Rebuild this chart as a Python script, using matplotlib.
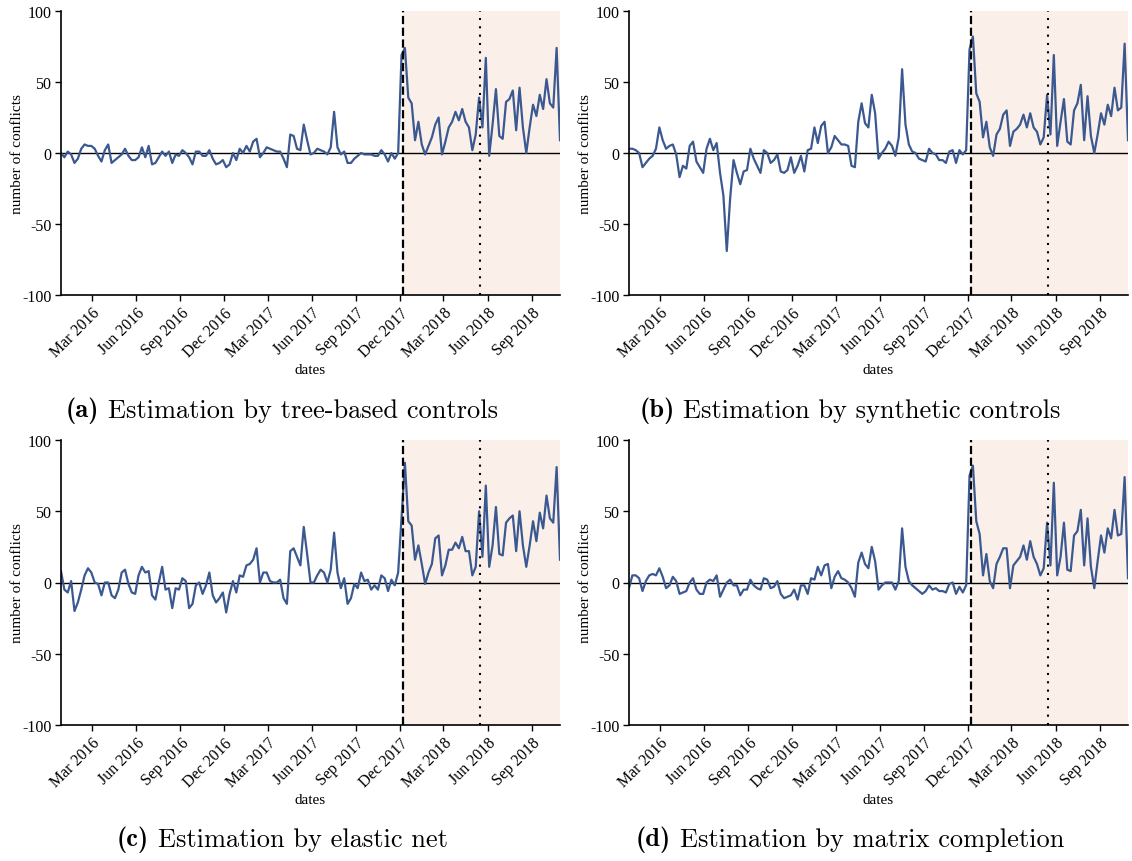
import numpy as np
import pandas as pd
import matplotlib
matplotlib.use("Agg")
import matplotlib.pyplot as plt
import matplotlib.dates as mdates

plt.rcParams['font.family'] = ['Liberation Serif', 'DejaVu Serif']
plt.rcParams['axes.unicode_minus'] = False

# weekly estimates, one point per week
start_date = "2015-12-28"
intervention = "2017-12-07"
second_event = "2018-05-15"

tree_based = [0, -3, 1, -1, -7, -4, 3, 6, 5, 5, 3, -2, -6, 2, 6, -7, -5, -3, -1, 3,
              -2, -5, -5, -3, 4, -3, 5, -8, -7, -3, 1, -2, 1, -7, -1, -2, 2, 0, -3, -8,
              1, 1, -2, -2, 2, -4, -8, -7, -5, -10, -8, 0, -5, 3, 0, 5, 1, 8, 10, -3,
              0, 4, 3, 2, 1, 1, -4, -10, 13, 12, 3, 2,
              20, 9, -1, 0, 3, 2, 1, -1, 4, 29, 4, -1, 1, -7, -7, -4, -2, 0, -1, -1,
              -1, -2, -2, 2, -1, -6, 0, -4, 0,
              69, 74, 39, 35, 9, 22, 6, -1, 5, 11, 20, 25, -1, 8, 18, 22, 29, 23, 31, 22,
              18, 2, 13, 39, 18, 67, -2, 20, 45, 12, 10, 36, 38, 44, 16, 46, 18, 0, 18, 34,
              26, 41, 31, 52, 35, 32, 74, 9]

synthetic = [3, 3, 2, 0, -10, -7, -4, -2, 3, 18, 9, 3, 5, 6, -1, -17, -9, -11, 5, 8,
             -6, -10, -14, 3, 10, 2, 7, -14, -30, -69, -32, -5, -14, -22, -13, -12, 3, -4, -9, -14,
             2, 0, -7, -5, -1, -13, -14, -12, -3, -14, -9, -2, -13, 2, 3, 18, 7, 19, 22, 0,
             4, 12, 9, 6,
             6, 5, -9, -10, 22, 35, 21, 18, 41, 28, -4, 0, 3, 8, 5, -2, 11, 59, 20, 6,
             1, 0, -4, -5, -6, 3, 0, -1, -5, -5, -7, 1, 2, -7, 2, -1, 2,
             73, 82, 42, 36, 11, 22, 4, -2, 13, 17, 27, 30, 5, 15, 17, 20, 27, 18, 28, 18,
             15, 6, 11, 41, 13, 69, 5, 22, 38, 8, 6, 30, 35, 48, 9, 40, 12, 0, 13, 28,
             20, 34, 26, 46, 30, 32, 77, 9]

elastic_net = [8, -5, -7, 1, -20, -14, -5, 5, 10, 7, 0, -1, -9, 0, 0, -9, -11, -5, 7, 9,
               -1, -7, -8, 5, 11, 7, 8, -9, -12, 0, 11, -5, -4, -18, -4, -5, 3, 1, -18, -15,
               -2, 0, -8, -2, 7, -9, -14, -11, -7, -21, -8, 1, -7, 5, 4, 12, 13, 16, 24, 0,
               7, 7, 1, 0, 0, 2, -11, -15, 22, 24, 18, 12,
               39, 20, 0, 0, 5, 9, 7, 0, 9, 35, 7, -4, 3, -15, -11, -1, -4, 7, 1, 2,
               -5, -2, -5, 5, 3, -6, 2, -2, 7,
               45, 84, 43, 40, 16, 26, 13, -1, 7, 13, 31, 33, 5, 12, 23, 23, 28, 24, 32, 22,
               22, 5, 11, 50, 18, 68, 11, 26, 53, 20, 19, 42, 45, 47, 22, 50, 26, 11, 26, 43,
               29, 49, 38, 61, 45, 42, 81, 16]

matrix_completion = [-4, 5, 5, 3, -6, 1, 5, 6, 5, 10, 4, -4, -2, 4, 1, -8, -7, -6, 0, 3,
                     -5, -8, -8, 0, 2, 1, 5, -10, -5, 0, 2, -2, -2, -9, -5, -5, 2, -2, -4, -5,
                     3, 2, -4, -3, 1, -8, -11, -10, -9, -5, -12, -2, -2, -8, 3, 2, 11, 5, 12, 13,
                     -4, 4, 8, 3,
                     2, 0, -4, -10, 14, 21, 13, 10, 25, 15, -5, -2, 0, 0, 0, -5, 1, 38, 11, 1,
                     -2, -4, -6, -8, -6, -2, -5, -4, -6, -6, -7, -1, 0, -8, -3, -7, -2,
                     75, 82, 43, 34, 5, 20, 1, -4, 13, 18, 24, 24, -4, 12, 15, 18, 26, 16, 29, 18,
                     13, 5, 10, 42, 12, 70, 5, 18, 42, 9, 8, 33, 36, 51, 12, 45, 11, -4, 15, 33,
                     21, 38, 31, 51, 33, 34, 74, 3]

captions = ["(a)", "(b)", "(c)", "(d)"]
caption_text = ["Estimation by tree-based controls", "Estimation by synthetic controls",
                "Estimation by elastic net", "Estimation by matrix completion"]
series = [tree_based, synthetic, elastic_net, matrix_completion]

dates = pd.date_range(start_date, periods=len(tree_based), freq="7D")

line_color = "#3b5990"
shade_color = "#faf0e9"

W, H = 1132, 862
fig = plt.figure(figsize=(W / 100, H / 100), dpi=100)
renderer = fig.canvas.get_renderer()

# axes boxes in pixels: left, top, right, bottom
boxes = [(61, 12, 560, 296), (629, 12, 1128, 296),
         (61, 441, 560, 726), (629, 441, 1128, 726)]
caption_pos = [(282, 411), (850, 411), (282, 840), (850, 840)]

for k in range(4):
    l, t, r, b = boxes[k]
    ax = fig.add_axes([l / W, 1 - b / H, (r - l) / W, (b - t) / H])
    vals = series[k]

    ax.axvspan(pd.Timestamp(intervention), dates[-1], color=shade_color, zorder=0, lw=0)
    ax.axhline(0, color="black", lw=1.0, zorder=1)
    ax.plot(dates, vals, color=line_color, lw=1.6, zorder=2)
    ax.axvline(pd.Timestamp(intervention), color="black", lw=1.6, ls="--", zorder=3)
    ax.axvline(pd.Timestamp(second_event), color="black", lw=1.5, ls=(0, (1, 3)), zorder=3)

    ax.set_xlim(dates[0], dates[-1])
    ax.set_ylim(-100, 100)
    ax.set_yticks([-100, -50, 0, 50, 100])
    ax.set_yticklabels(["-100", "-50", "0", "50", "100"])
    ax.xaxis.set_major_locator(mdates.MonthLocator(bymonth=[3, 6, 9, 12]))
    ax.xaxis.set_major_formatter(mdates.DateFormatter("%b %Y"))
    for lab in ax.get_xticklabels():
        lab.set_rotation(45)
        lab.set_ha("right")
        lab.set_rotation_mode("anchor")
    ax.tick_params(labelsize=11.5, length=4, width=1, pad=3, colors="black")
    for s in ["top", "right"]:
        ax.spines[s].set_visible(False)
    for s in ["left", "bottom"]:
        ax.spines[s].set_linewidth(1.2)
    ax.set_ylabel("number of conflicts", fontsize=11)
    ax.yaxis.set_label_coords(-37 / (r - l), 0.5)
    ax.set_xlabel("dates", fontsize=11, labelpad=2)

    # caption: bold tag + roman text, centred together
    cx, cy = caption_pos[k]
    t1 = fig.text(0, 1 - cy / H, captions[k], family="cmb10", fontsize=19, va="center")
    t2 = fig.text(0, 1 - cy / H, caption_text[k], family="cmr10", fontsize=19, va="center")
    w1 = t1.get_window_extent(renderer).width
    w2 = t2.get_window_extent(renderer).width
    gap = 9
    x0 = cx - (w1 + gap + w2) / 2
    t1.set_x(x0 / W)
    t2.set_x((x0 + w1 + gap) / W)

fig.savefig("out.png", dpi=100)
